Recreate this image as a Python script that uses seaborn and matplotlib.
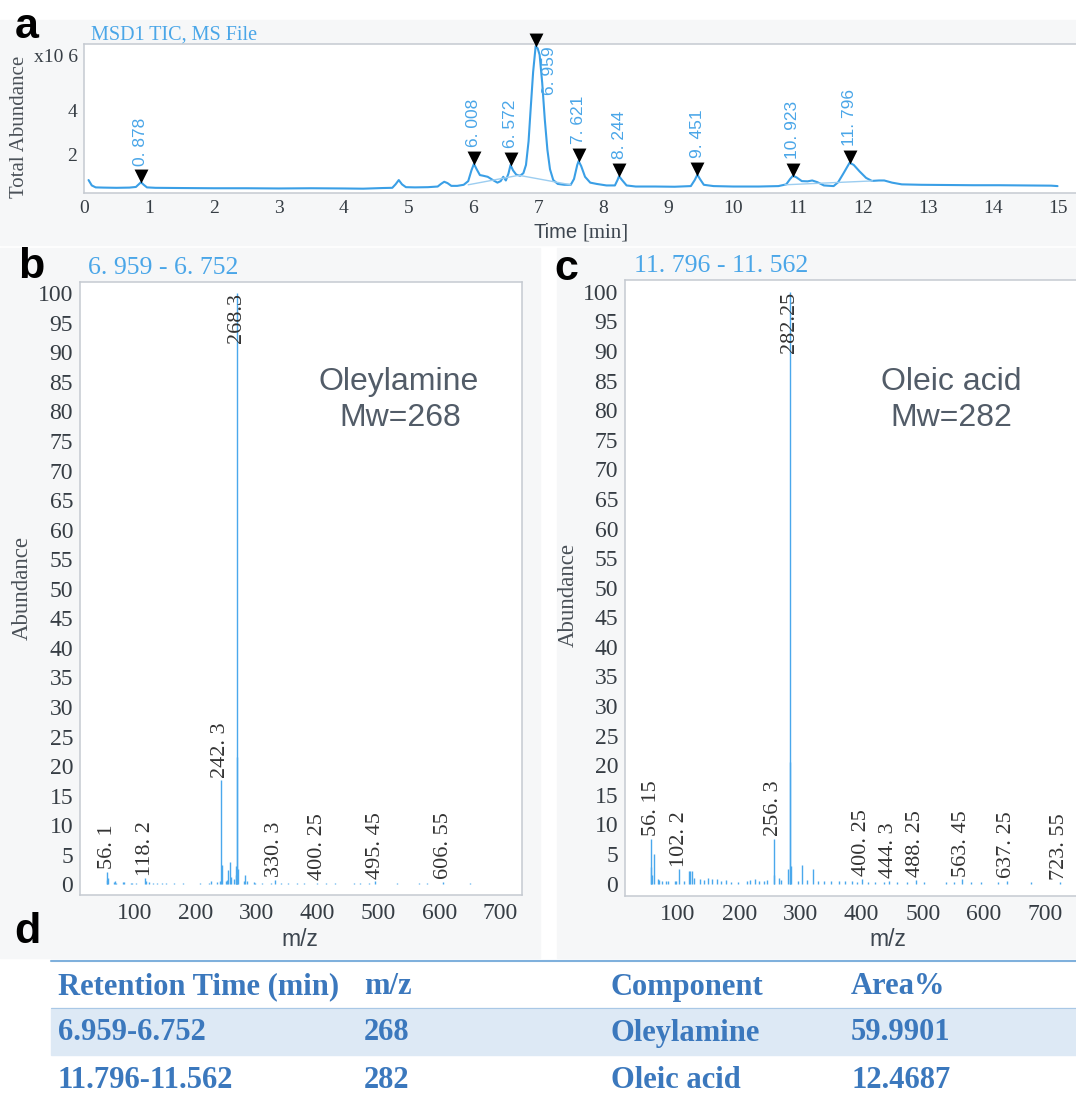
import numpy as np
import pandas as pd
import matplotlib
matplotlib.use("Agg")
import matplotlib.pyplot as plt
import matplotlib.transforms as mtransforms
from matplotlib.patches import Rectangle
from matplotlib.lines import Line2D
import seaborn as sns

OUTPUT = "out.png"
W, H = 1076, 1097

# ---- panel a: total ion chromatogram (x10^6) ----
tic_time = [0.07, 0.12, 0.18, 0.3, 0.5, 0.7, 0.8, 0.85, 0.878, 0.92, 0.97, 1.1, 1.5, 2.0,
            2.5, 3.0, 3.5, 4.0, 4.3, 4.6, 4.75, 4.8, 4.85, 4.9, 4.96, 5.1, 5.3, 5.45, 5.5,
            5.55, 5.6, 5.66, 5.75, 5.85, 5.92, 5.97, 6.008, 6.05, 6.1, 6.15, 6.22, 6.3,
            6.37, 6.42, 6.46, 6.5, 6.54, 6.572, 6.61, 6.66, 6.72, 6.77, 6.81, 6.85, 6.88,
            6.92, 6.959, 6.99, 7.02, 7.06, 7.1, 7.14, 7.18, 7.23, 7.3, 7.4, 7.5, 7.55, 7.6,
            7.621, 7.66, 7.72, 7.8, 7.9, 8.05, 8.18, 8.22, 8.244, 8.29, 8.36, 8.5, 8.8, 9.1,
            9.35, 9.41, 9.451, 9.49, 9.55, 9.7, 10.0, 10.4, 10.7, 10.82, 10.88, 10.923,
            10.98, 11.06, 11.15, 11.22, 11.3, 11.4, 11.55, 11.62, 11.7, 11.796, 11.86,
            11.95, 12.05, 12.14, 12.25, 12.33, 12.45, 12.6, 12.9, 13.3, 13.7, 14.1, 14.5,
            14.9, 15.0]
tic_abund = [0.8, 0.55, 0.46, 0.45, 0.44, 0.45, 0.48, 0.62, 0.7, 0.58, 0.46, 0.44, 0.43,
             0.42, 0.42, 0.41, 0.42, 0.41, 0.4, 0.43, 0.44, 0.6, 0.8, 0.6, 0.47, 0.46, 0.47,
             0.5, 0.62, 0.72, 0.66, 0.53, 0.53, 0.58, 0.75, 1.25, 1.55, 1.3, 1.03, 1.0, 0.95,
             0.8, 0.68, 0.75, 0.95, 0.78, 1.1, 1.5, 1.25, 1.05, 1.0, 1.12, 1.5, 2.6, 4.0,
             5.8, 7.0, 6.9, 6.6, 5.3, 3.6, 2.2, 1.3, 0.8, 0.62, 0.58, 0.58, 0.85, 1.5, 1.68,
             1.45, 0.95, 0.68, 0.62, 0.55, 0.55, 0.8, 0.98, 0.8, 0.55, 0.5, 0.5, 0.49, 0.52,
             0.8, 1.05, 0.85, 0.58, 0.52, 0.5, 0.5, 0.52, 0.6, 0.85, 1.0, 0.92, 0.75, 0.74,
             0.78, 0.7, 0.55, 0.52, 0.7, 1.1, 1.6, 1.5, 1.2, 0.9, 0.76, 0.78, 0.78, 0.68,
             0.6, 0.58, 0.57, 0.56, 0.56, 0.55, 0.54, 0.52]

# integration baselines drawn under the peaks
bl_time = [5.92, 6.70, 6.70, 7.50, 10.80, 12.15]
bl_abund = [0.58, 1.02, 1.02, 0.58, 0.58, 0.76]
bl_seg = [0, 0, 1, 1, 2, 2]

peak_time = [0.878, 6.008, 6.572, 6.959, 7.621, 8.244, 9.451, 10.923, 11.796]
peak_abund = [0.7, 1.55, 1.5, 7.0, 1.68, 0.98, 1.05, 1.0, 1.6]
peak_label = ["0. 878", "6. 008", "6. 572", "6. 959", "7. 621", "8. 244", "9. 451",
              "10. 923", "11. 796"]

# ---- panel b: mass spectrum 6.959 - 6.752 ----
b_mz = [55.1, 56.1, 57.1, 67.1, 69.1, 71.1, 81.1, 83.1, 95.1, 97.1, 103.1, 118.2, 120.1,
        124.1, 131.1, 138.1, 145.1, 152.1, 166.1, 180.1, 208.2, 222.2, 226.2, 236.2,
        240.2, 242.3, 243.3, 250.2, 252.2, 254.3, 256.3, 258.3, 264.3, 266.3, 267.3,
        268.3, 269.3, 270.3, 280.3, 282.3, 284.3, 296.3, 298.3, 310.3, 324.3, 330.3,
        340.3, 352.3, 366.3, 378.3, 400.25, 414.3, 428.4, 460.4, 470.4, 484.4, 495.45,
        530.5, 566.5, 580.5, 606.55, 650.6]
b_ab = [0.8, 2.1, 1.0, 0.4, 0.5, 0.3, 0.4, 0.4, 0.3, 0.3, 0.3, 1.0, 0.6, 0.4, 0.3, 0.3,
        0.3, 0.2, 0.2, 0.2, 0.2, 0.3, 0.5, 0.4, 0.6, 17.6, 3.3, 0.6, 0.8, 2.5, 3.8, 1.2,
        0.9, 3.1, 1.6, 100.0, 21.5, 2.6, 0.5, 1.5, 0.5, 0.4, 0.3, 0.3, 0.3, 0.8, 0.2, 0.3,
        0.2, 0.2, 0.3, 0.2, 0.2, 0.2, 0.2, 0.2, 0.5, 0.15, 0.15, 0.15, 0.4, 0.15]
b_lab_mz = [56.1, 118.2, 242.3, 330.3, 400.25, 495.45, 606.55]
b_lab_text = ["56. 1", "118. 2", "242. 3", "330. 3", "400. 25", "495. 45", "606. 55"]
b_base_mz, b_base_text = 268.3, "268.3"

# ---- panel c: mass spectrum 11.796 - 11.562 ----
c_mz = [55.1, 56.15, 57.1, 60.1, 67.1, 69.1, 73.1, 81.1, 83.1, 95.1, 97.1, 102.2, 109.1,
        118.1, 120.1, 123.1, 126.1, 135.1, 142.1, 149.1, 156.1, 163.1, 170.1, 178.1,
        186.1, 198.1, 212.2, 218.2, 226.2, 232.2, 240.2, 246.2, 256.3, 257.3, 264.3,
        268.3, 280.3, 282.25, 283.3, 284.3, 296.3, 303.3, 310.3, 320.3, 328.3, 338.3,
        350.3, 362.3, 372.3, 384.3, 392.3, 400.25, 410.4, 422.4, 436.4, 444.3, 458.4,
        474.4, 488.25, 502.5, 538.5, 550.5, 563.45, 578.5, 594.5, 622.6, 637.25, 676.6,
        723.55]
c_ab = [2.8, 7.5, 1.5, 5.0, 0.8, 0.6, 0.5, 0.4, 0.5, 0.4, 0.4, 2.4, 0.4, 2.2, 2.2, 2.2,
        1.0, 0.8, 0.6, 0.9, 0.7, 0.8, 0.5, 0.6, 0.3, 0.3, 0.5, 0.6, 0.7, 0.4, 0.5, 0.6,
        7.5, 1.4, 0.9, 0.6, 2.4, 100.0, 20.6, 3.0, 0.5, 3.2, 0.6, 2.5, 0.5, 0.4, 0.4, 0.5,
        0.4, 0.5, 0.3, 0.8, 0.3, 0.3, 0.3, 0.5, 0.3, 0.3, 0.6, 0.2, 0.2, 0.3, 0.7, 0.2,
        0.2, 0.2, 0.4, 0.2, 0.2]
c_lab_mz = [56.15, 102.2, 256.3, 400.25, 444.3, 488.25, 563.45, 637.25, 723.55]
c_lab_text = ["56. 15", "102. 2", "256. 3", "400. 25", "444. 3", "488. 25", "563. 45",
              "637. 25", "723. 55"]
c_base_mz, c_base_text = 282.25, "282.25"

# ---- panel d: table ----
table_header = ["Retention Time (min)", "m/z", "Component", "Area%"]
table_rows = [["6.959-6.752", "268", "Oleylamine", "59.9901"],
              ["11.796-11.562", "282", "Oleic acid", "12.4687"]]

TRACE = "#3a9fe6"
BASE = "#9ccdf0"
STEM = "#4aa8ec"
LABEL_BLUE = "#4aa6e8"
SPINE = "#c5cad1"
TICK_TXT = "#363d44"
NAME_GRAY = "#525c68"
TABLE_BLUE = "#3b78bd"
PANEL_BG = "#f6f7f8"

sns.set_style("white")
plt.rcParams['font.family'] = ['Liberation Serif', 'DejaVu Serif']
SANS = ['Liberation Sans', 'DejaVu Sans']


def fx(x):
    return x / W


def fy(y):
    return 1 - y / H


def px_axes(fig, left, top, right, bottom):
    return fig.add_axes([fx(left), fy(bottom), (right - left) / W, (bottom - top) / H])


def style_axes(ax, labelsize, xpad, ypad):
    for sp in ax.spines.values():
        sp.set_color(SPINE)
        sp.set_linewidth(1.1)
    ax.tick_params(axis='both', direction='out', length=3, width=0.8, color='#8f969d',
                   labelcolor=TICK_TXT, labelsize=labelsize)
    ax.tick_params(axis='x', pad=xpad)
    ax.tick_params(axis='y', pad=ypad)
    ax.set_facecolor('white')


def spectrum(ax, mz, ab, lab_mz, lab_text, base_mz, base_text, xlim, ylim):
    ax.vlines(mz, 0, ab, color=STEM, lw=1.0)
    mz = np.asarray(mz)
    ab = np.asarray(ab)
    for m, t in zip(lab_mz, lab_text):
        h = ab[np.isclose(mz, m)][0]
        ax.annotate(t, xy=(m, h), xytext=(0, 2), textcoords='offset points',
                    rotation=90, ha='center', va='bottom', fontsize=16, color='#333333')
    ax.annotate(base_text, xy=(base_mz, 100), rotation=90, ha='center', va='top',
                fontsize=16, color='#333333')
    ax.set_xlim(*xlim)
    ax.set_ylim(*ylim)
    ax.set_xticks([100, 200, 300, 400, 500, 600, 700])
    ax.set_yticks(list(range(0, 101, 5)))
    ax.set_xlabel('')
    ax.set_ylabel('')
    style_axes(ax, 17, 3, 2)


def main():
    fig = plt.figure(figsize=(W / 100, H / 100), dpi=100)
    fig.patch.set_facecolor('white')

    # light panel backgrounds like the screenshots
    for (l, t, r, b) in [(0, 20, 1076, 245), (0, 248, 540, 958), (557, 248, 1076, 958)]:
        fig.add_artist(Rectangle((fx(l), fy(b)), (r - l) / W, (b - t) / H,
                                 transform=fig.transFigure, color=PANEL_BG, zorder=-10))

    # ---------------- panel a ----------------
    ax_a = px_axes(fig, 84, 44, 1077, 193)
    sns.lineplot(x=tic_time, y=tic_abund, ax=ax_a, color=TRACE, lw=1.5)
    bl = pd.DataFrame({'t': bl_time, 'v': bl_abund, 'seg': bl_seg})
    sns.lineplot(data=bl, x='t', y='v', units='seg', estimator=None, ax=ax_a,
                 color=BASE, lw=1.0)
    ax_a.set_xlim(0, 15.3)
    ax_a.set_ylim(0.2, 7.1)
    ax_a.set_xticks(range(16))
    ax_a.set_yticks([2, 4, 6])
    ax_a.set_yticklabels(['2', '4', ''])
    ax_a.set_xlabel('')
    ax_a.set_ylabel('')
    style_axes(ax_a, 14, 2, 2)

    tri = mtransforms.offset_copy(ax_a.transData, fig=fig, x=0, y=6, units='dots')
    ax_a.scatter(peak_time, peak_abund, marker='v', s=100, color='black',
                 transform=tri, zorder=5, clip_on=False, linewidths=0)
    for t, h, lab in zip(peak_time, peak_abund, peak_label):
        if h > 6:
            ax_a.annotate(lab, xy=(t, 0.985), xycoords=('data', 'axes fraction'),
                          xytext=(10, 0), textcoords='offset points', rotation=90,
                          ha='center', va='top', fontsize=12.5, color=LABEL_BLUE,
                          family=SANS)
        else:
            ax_a.annotate(lab, xy=(t, h), xytext=(0, 12), textcoords='offset points',
                          rotation=90, ha='center', va='bottom', fontsize=12.5,
                          color=LABEL_BLUE, family=SANS)

    fig.text(fx(91), fy(35), "MSD1 TIC, MS File", fontsize=14.5, color=LABEL_BLUE,
             ha='left', va='center')
    fig.text(fx(78), fy(58), "x10 6", fontsize=14, color=TICK_TXT, ha='right', va='center')
    fig.text(fx(20), fy(127), "Total Abundance", fontsize=15, color='#4a5158',
             rotation=90, ha='center', va='center')
    fig.text(fx(578), fy(233), "Time", fontsize=14.5, color='#3d4650', ha='right',
             va='center', family=SANS)
    fig.text(fx(582), fy(233), "[min]", fontsize=15, color='#3d4650', ha='left',
             va='center')

    # ---------------- panel b ----------------
    ax_b = px_axes(fig, 80, 282, 522, 895)
    spectrum(ax_b, b_mz, b_ab, b_lab_mz, b_lab_text, b_base_mz, b_base_text,
             (11.3, 735.6), (-1.8, 101.9))
    fig.text(fx(88), fy(268), "6. 959 - 6. 752", fontsize=18.5, color=LABEL_BLUE,
             ha='left', va='center')
    fig.text(fx(22), fy(588), "Abundance", fontsize=16.5, color='#4a5158',
             rotation=90, ha='center', va='center')
    fig.text(fx(300), fy(940), "m/z", fontsize=16.5, color='#3d4650', ha='center',
             va='center', family=SANS)
    fig.text(fx(399), fy(382), "Oleylamine", fontsize=23, color=NAME_GRAY,
             ha='center', va='center', family=SANS)
    fig.text(fx(400), fy(418), "Mw=268", fontsize=23, color=NAME_GRAY,
             ha='center', va='center', family=SANS)

    # ---------------- panel c ----------------
    ax_c = px_axes(fig, 625, 280, 1151, 896)
    spectrum(ax_c, c_mz, c_ab, c_lab_mz, c_lab_text, c_base_mz, c_base_text,
             (13.3, 873.0), (-2.1, 102.0))
    fig.text(fx(634), fy(266), "11. 796 - 11. 562", fontsize=18.5, color=LABEL_BLUE,
             ha='left', va='center')
    fig.text(fx(568), fy(595), "Abundance", fontsize=16.5, color='#4a5158',
             rotation=90, ha='center', va='center')
    fig.text(fx(888), fy(940), "m/z", fontsize=16.5, color='#3d4650', ha='center',
             va='center', family=SANS)
    fig.text(fx(951), fy(382), "Oleic acid", fontsize=23, color=NAME_GRAY,
             ha='center', va='center', family=SANS)
    fig.text(fx(951), fy(418), "Mw=282", fontsize=23, color=NAME_GRAY,
             ha='center', va='center', family=SANS)

    # ---------------- panel labels ----------------
    for lab, x, y in [('a', 15, 38), ('b', 18, 278), ('c', 554, 280), ('d', 14, 943)]:
        fig.text(fx(x), fy(y), lab, fontsize=31, fontweight='bold', color='black',
                 ha='left', va='baseline', family=SANS)

    # ---------------- panel d: table ----------------
    fig.add_artist(Rectangle((fx(51), fy(1055)), (1076 - 51) / W, 47 / H,
                             transform=fig.transFigure, color='#dde9f5', zorder=-5))
    fig.add_artist(Line2D([fx(51), 1], [fy(961), fy(961)], transform=fig.transFigure,
                          color='#7fb0dc', lw=1.5))
    fig.add_artist(Line2D([fx(51), 1], [fy(1008), fy(1008)], transform=fig.transFigure,
                          color='#a9c8e6', lw=0.8))
    col_x = [58, 364, 611, 851]
    row_y = [987, 1033, 1080]
    for cx, txt in zip(col_x, table_header):
        fig.text(fx(cx), fy(row_y[0]), txt, fontsize=22, fontweight='bold',
                 color=TABLE_BLUE, ha='left', va='center')
    for ry, row in zip(row_y[1:], table_rows):
        for cx, txt in zip(col_x, row):
            fig.text(fx(cx), fy(ry), txt, fontsize=22, fontweight='bold',
                     color=TABLE_BLUE, ha='left', va='center')

    fig.savefig(OUTPUT, dpi=100, facecolor=fig.get_facecolor())
    plt.close(fig)


if __name__ == '__main__':
    main()
